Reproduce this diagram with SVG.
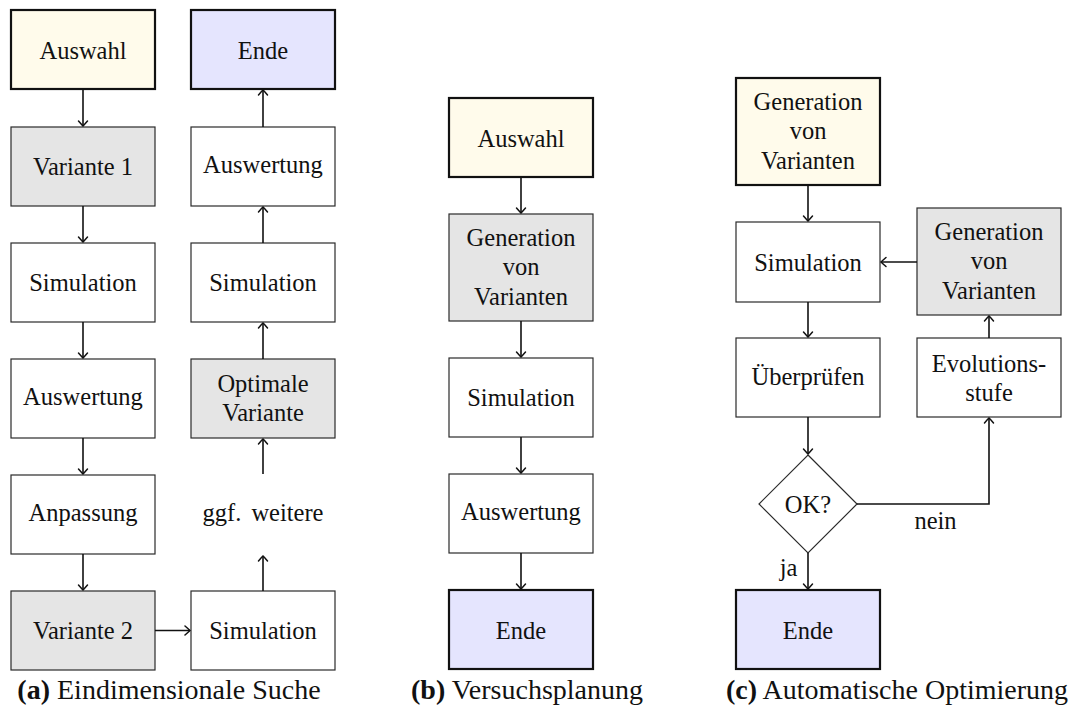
<svg xmlns="http://www.w3.org/2000/svg" width="1082" height="717" viewBox="0 0 1082 717">
  <style>
    text { font-family: "Liberation Serif", "Times New Roman", serif; font-size: 24.5px; fill: #111; text-anchor: middle; }
    .cap { font-size: 28px; }
    .bold { font-weight: bold; }
    .box { stroke: #2a2a2a; stroke-width: 1.2; fill: #fff; }
    .gray { fill: #e5e5e5; }
    .start { fill: #fffbeb; stroke: #111; stroke-width: 2.2; }
    .end { fill: #e5e5fe; stroke: #111; stroke-width: 2.2; }
    .edge { stroke: #111; stroke-width: 1.6; fill: none; marker-end: url(#tip); }
  </style>
  <defs>
    <marker id="tip" markerUnits="userSpaceOnUse" markerWidth="12" markerHeight="12" viewBox="-7 -6 8 12" refX="0" refY="0" orient="auto">
      <path d="M -5 -4.5 Q -1.2 -1.2 0 0 Q -1.2 1.2 -5 4.5" fill="none" stroke="#111" stroke-width="1.5" stroke-linecap="round"/>
    </marker>
  </defs>

  <!-- (a) one-dimensional search -->
  <g id="a-auswahl"><rect class="start" x="11" y="10" width="144" height="79"/><text x="83" y="58.5">Auswahl</text></g>
  <g id="a-variante1"><rect class="box gray" x="11" y="127" width="144" height="79"/><text x="83" y="175">Variante 1</text></g>
  <g id="a-simulation1"><rect class="box" x="11" y="243" width="144" height="79"/><text x="83" y="291">Simulation</text></g>
  <g id="a-auswertung1"><rect class="box" x="11" y="359" width="144" height="79"/><text x="83" y="404.5">Auswertung</text></g>
  <g id="a-anpassung"><rect class="box" x="11" y="475" width="144" height="79"/><text x="83" y="520.5">Anpassung</text></g>
  <g id="a-variante2"><rect class="box gray" x="11" y="591" width="144" height="79"/><text x="83" y="639">Variante 2</text></g>
  <g id="a-simulation2"><rect class="box" x="191" y="591" width="144" height="79"/><text x="263" y="639">Simulation</text></g>
  <g id="a-weitere"><text x="263" y="520.5" word-spacing="4">ggf. weitere</text></g>
  <g id="a-optimal"><rect class="box gray" x="191" y="359" width="144" height="79"/><text x="263" y="392">Optimale</text><text x="263" y="420.5">Variante</text></g>
  <g id="a-simulation3"><rect class="box" x="191" y="243" width="144" height="79"/><text x="263" y="291">Simulation</text></g>
  <g id="a-auswertung2"><rect class="box" x="191" y="127" width="144" height="79"/><text x="263" y="172.5">Auswertung</text></g>
  <g id="a-ende"><rect class="end" x="191" y="10" width="144" height="79"/><text x="263" y="58.5">Ende</text></g>

  <!-- (b) design of experiments -->
  <g id="b-auswahl"><rect class="start" x="449" y="98" width="144" height="79"/><text x="521" y="146.5">Auswahl</text></g>
  <g id="b-generation"><rect class="box gray" x="449" y="214" width="144" height="107"/><text x="521" y="245.5">Generation</text><text x="521" y="275">von</text><text x="521" y="304.5">Varianten</text></g>
  <g id="b-simulation"><rect class="box" x="449" y="358" width="144" height="79"/><text x="521" y="406">Simulation</text></g>
  <g id="b-auswertung"><rect class="box" x="449" y="474" width="144" height="79"/><text x="521" y="519.5">Auswertung</text></g>
  <g id="b-ende"><rect class="end" x="449" y="590" width="144" height="79"/><text x="521" y="638.5">Ende</text></g>

  <!-- (c) automatic optimisation -->
  <g id="c-generation"><rect class="start" x="736" y="78" width="144" height="107"/><text x="808" y="110">Generation</text><text x="808" y="139">von</text><text x="808" y="168.5">Varianten</text></g>
  <g id="c-simulation"><rect class="box" x="736" y="222" width="144" height="80"/><text x="808" y="270.5">Simulation</text></g>
  <g id="c-pruefen"><rect class="box" x="736" y="338" width="144" height="79"/><text x="808" y="385">Überprüfen</text></g>
  <g id="c-ok"><path class="box" d="M 808 455 L 857 504 L 808 553 L 759 504 Z"/><text x="808" y="513">OK?</text></g>
  <g id="c-ende"><rect class="end" x="736" y="590" width="144" height="79"/><text x="808" y="638.5">Ende</text></g>
  <g id="c-evolution"><rect class="box" x="917" y="338" width="144" height="79"/><text x="989" y="371.5">Evolutions-</text><text x="989" y="400.5">stufe</text></g>
  <g id="c-generation2"><rect class="box gray" x="917" y="208" width="144" height="107"/><text x="989" y="239.5">Generation</text><text x="989" y="269">von</text><text x="989" y="298.5">Varianten</text></g>

  <!-- connectors -->
  <g id="connectors">
    <path class="edge" d="M 83 89 V 126"/>
    <path class="edge" d="M 83 206 V 242"/>
    <path class="edge" d="M 83 322 V 358"/>
    <path class="edge" d="M 83 438 V 474"/>
    <path class="edge" d="M 83 554 V 590"/>
    <path class="edge" d="M 155 630.5 H 190"/>
    <path class="edge" d="M 263 591 V 556"/>
    <path class="edge" d="M 263 474 V 439"/>
    <path class="edge" d="M 263 359 V 323"/>
    <path class="edge" d="M 263 243 V 207"/>
    <path class="edge" d="M 263 127 V 90"/>

    <path class="edge" d="M 521 177 V 213"/>
    <path class="edge" d="M 521 321 V 357"/>
    <path class="edge" d="M 521 437 V 473"/>
    <path class="edge" d="M 521 553 V 589"/>

    <path class="edge" d="M 808 185 V 221"/>
    <path class="edge" d="M 808 302 V 337"/>
    <path class="edge" d="M 808 417 V 454"/>
    <path class="edge" d="M 808 553 V 589"/>
    <path class="edge" d="M 917 262 H 881"/>
    <path class="edge" d="M 989 338 V 316"/>
    <path class="edge" d="M 857 504 H 989 V 418"/>
    <text x="935.5" y="528.5">nein</text>
    <text x="788.5" y="576">ja</text>
  </g>

  <!-- captions -->
  <g id="captions">
    <text class="cap" x="169" y="699"><tspan class="bold">(a)</tspan> Eindimensionale Suche</text>
    <text class="cap" x="527" y="699"><tspan class="bold">(b)</tspan> Versuchsplanung</text>
    <text class="cap" x="897" y="699"><tspan class="bold">(c)</tspan> Automatische Optimierung</text>
  </g>
</svg>
